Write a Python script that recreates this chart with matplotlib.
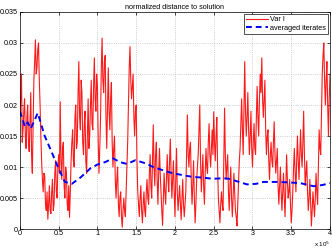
"""plot.py -- normalized distance to solution, raw iterates vs averaged iterates."""

import matplotlib as mpl
mpl.use("Agg")
import matplotlib.pyplot as plt
from matplotlib.ticker import FuncFormatter, MultipleLocator

# iteration axis is in units of 1e5, one reading every 0.01
X_STEP = 0.01
var_i = [
    0.019, 0.021, 0.025, 0.014, 0.016, 0.019, 0.021, 0.015, 0.013, 0.018,
    0.020, 0.014, 0.0125, 0.017, 0.022, 0.012, 0.009, 0.016, 0.024, 0.027,
    0.0305, 0.025, 0.026, 0.029, 0.030, 0.024, 0.020, 0.015, 0.011, 0.008,
    0.006, 0.009, 0.0085, 0.004, 0.003, 0.006, 0.0016, 0.004, 0.007, 0.003,
    0.0025, 0.006, 0.008, 0.003, 0.004, 0.009, 0.011, 0.006, 0.005, 0.010,
    0.012, 0.009, 0.0205, 0.011, 0.008, 0.013, 0.014, 0.007, 0.005, 0.010,
    0.009, 0.004, 0.003, 0.007, 0.0019, 0.006, 0.011, 0.014, 0.016, 0.011,
    0.010, 0.018, 0.020, 0.013, 0.014, 0.022, 0.027, 0.018, 0.016, 0.024,
    0.022, 0.014, 0.012, 0.017, 0.019, 0.011, 0.009, 0.015, 0.021, 0.013,
    0.015, 0.020, 0.024, 0.017, 0.016, 0.023, 0.0276, 0.021, 0.019, 0.025,
    0.023, 0.014, 0.009, 0.013, 0.018, 0.026, 0.0308, 0.024, 0.022, 0.027,
    0.028, 0.018, 0.013, 0.020, 0.026, 0.019, 0.016, 0.021, 0.0236, 0.014,
    0.010, 0.013, 0.015, 0.008, 0.005, 0.008, 0.010, 0.004, 0.002, 0.005,
    0.006, 0.002, 0.0003, 0.003, 0.005, 0.003, 0.002, 0.006, 0.010, 0.014,
    0.020, 0.026, 0.0294, 0.024, 0.021, 0.023, 0.025, 0.018, 0.015, 0.019,
    0.020, 0.011, 0.006, 0.004, 0.002, 0.005, 0.007, 0.003, 0.001, 0.004,
    0.006, 0.003, 0.002, 0.006, 0.008, 0.005, 0.004, 0.009, 0.012, 0.007,
    0.005, 0.011, 0.0168, 0.010, 0.007, 0.012, 0.014, 0.008, 0.004, 0.009,
    0.013, 0.009, 0.006, 0.003, 0.0006, 0.005, 0.009, 0.006, 0.004, 0.008,
    0.012, 0.008, 0.006, 0.011, 0.0145, 0.009, 0.005, 0.008, 0.011, 0.006,
    0.002, 0.008, 0.013, 0.006, 0.003, 0.005, 0.007, 0.004, 0.0015, 0.005,
    0.008, 0.004, 0.002, 0.004, 0.006, 0.012, 0.0184, 0.012, 0.010, 0.013,
    0.014, 0.008, 0.004, 0.007, 0.011, 0.005, 0.001, 0.004, 0.008, 0.010,
    0.012, 0.016, 0.020, 0.011, 0.006, 0.009, 0.012, 0.007, 0.004, 0.009,
    0.013, 0.010, 0.009, 0.014, 0.017, 0.012, 0.010, 0.013, 0.016, 0.012,
    0.0189, 0.014, 0.011, 0.015, 0.018, 0.010, 0.005, 0.003, 0.001, 0.004,
    0.006, 0.004, 0.003, 0.011, 0.0195, 0.012, 0.008, 0.010, 0.012, 0.006,
    0.003, 0.007, 0.010, 0.005, 0.002, 0.005, 0.009, 0.006, 0.003, 0.002,
    0.0005, 0.004, 0.008, 0.011, 0.013, 0.017, 0.021, 0.016, 0.012, 0.019,
    0.027, 0.019, 0.015, 0.018, 0.022, 0.016, 0.012, 0.015, 0.019, 0.013,
    0.010, 0.014, 0.017, 0.013, 0.012, 0.018, 0.023, 0.018, 0.015, 0.021,
    0.025, 0.022, 0.0276, 0.021, 0.018, 0.021, 0.024, 0.016, 0.012, 0.015,
    0.016, 0.011, 0.008, 0.012, 0.014, 0.011, 0.010, 0.014, 0.0173, 0.012,
    0.009, 0.011, 0.013, 0.007, 0.004, 0.007, 0.010, 0.006, 0.003, 0.006,
    0.009, 0.005, 0.002, 0.007, 0.012, 0.008, 0.005, 0.006, 0.008, 0.004,
    0.001, 0.003, 0.006, 0.010, 0.013, 0.009, 0.006, 0.011, 0.015, 0.011,
    0.008, 0.012, 0.016, 0.012, 0.010, 0.014, 0.019, 0.012, 0.007, 0.009,
    0.011, 0.006, 0.003, 0.005, 0.008, 0.004, 0.0005, 0.003, 0.006, 0.004,
    0.002, 0.005, 0.009, 0.006, 0.004, 0.010, 0.016, 0.013, 0.012, 0.019,
    0.025, 0.028, 0.030, 0.024, 0.020, 0.024, 0.027, 0.020, 0.015, 0.021,
    0.025,
]
var_i_x = [i * X_STEP for i in range(len(var_i))]

avg_x = [0.00, 0.065, 0.10, 0.14, 0.23, 0.32, 0.41, 0.49, 0.58, 0.67,
         0.78, 0.91, 1.00, 1.10, 1.20, 1.29, 1.38, 1.49, 1.62, 1.72,
         1.84, 1.97, 2.10, 2.23, 2.36, 2.49, 2.62, 2.70, 2.80, 2.93,
         3.05, 3.14, 3.32, 3.50, 3.62, 3.79, 3.90, 4.00]
avg_y = [0.0190, 0.0165, 0.0172, 0.0162, 0.0187, 0.0150, 0.0124, 0.0100, 0.0076, 0.0073,
         0.0083, 0.0098, 0.0104, 0.0108, 0.0114, 0.0108, 0.0105, 0.0111, 0.0106, 0.0100,
         0.0095, 0.0090, 0.0087, 0.0084, 0.0083, 0.0081, 0.0082, 0.0081, 0.0077, 0.0072,
         0.0073, 0.0076, 0.0076, 0.0075, 0.0074, 0.0069, 0.0071, 0.0074]

FS = 5.2
plt.rcParams["font.family"] = ["Liberation Sans", "DejaVu Sans"]

fig = plt.figure(figsize=(3.32, 2.49), dpi=100)
ax = fig.add_axes([0.060, 0.080, 0.934, 0.872])

ax.plot(var_i_x, var_i, color="#ff1a1a", lw=0.8, label="Var I")
ax.plot(avg_x, avg_y, color="#0000ff", lw=1.4, ls=(0, (3, 2)), label="averaged iterates")

ax.set_xlim(0, 4)
ax.set_ylim(0, 0.035)
ax.xaxis.set_major_locator(MultipleLocator(0.5))
ax.yaxis.set_major_locator(MultipleLocator(0.005))
ax.xaxis.set_major_formatter(FuncFormatter(lambda v, p: f"{v:g}"))
ax.yaxis.set_major_formatter(FuncFormatter(lambda v, p: f"{round(v, 4):g}"))
ax.tick_params(direction="in", length=2, width=0.5, labelsize=FS, pad=1.5,
               top=True, right=True)
ax.tick_params(axis="x", pad=1.0)
ax.grid(True, ls=":", lw=0.5, color="#b0b0b0")
for s in ax.spines.values():
    s.set_linewidth(0.5)

ax.set_title("normalized distance to solution", fontsize=FS, pad=2)
# MATLAB-style exponent under the right end of the x axis
fig.text(0.994, 0.010, "x 10$^5$", ha="right", va="baseline", fontsize=4.5)

leg = ax.legend(loc="upper right", fontsize=FS, fancybox=False, framealpha=1,
                edgecolor="#333333", borderpad=0.3, labelspacing=0.2,
                handlelength=3.0, handletextpad=0.3, borderaxespad=0.3)
leg.get_frame().set_linewidth(0.6)

fig.savefig("out.png", dpi=100)
